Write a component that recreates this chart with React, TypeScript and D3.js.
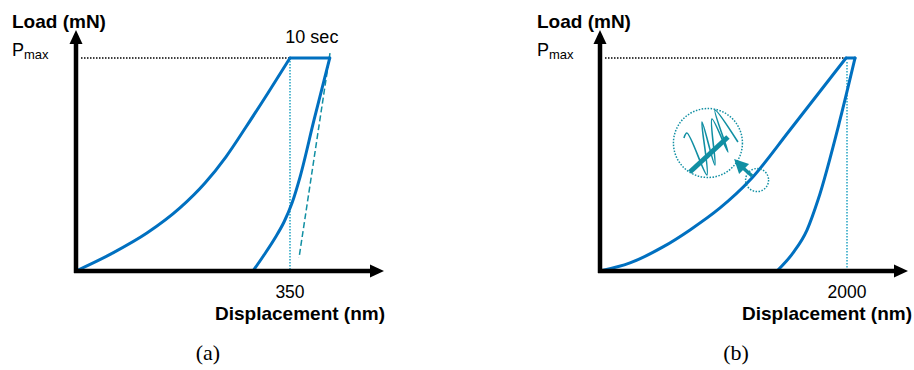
import React from "react";
import * as d3 from "d3";

// ---- data (displacement in nm, load as fraction of Pmax) ----
const LOAD_A_X = [0, 60.5, 116, 170, 211, 245, 278, 314, 350];
const LOAD_A_Y = [0, 0.085, 0.178, 0.296, 0.413, 0.535, 0.676, 0.836, 1];
const HOLD_A_X = [350, 415];
const UNLOAD_A_X = [415, 389.3, 366.4, 353.3, 340.2, 325.5, 307.5, 289.5];
const UNLOAD_A_Y = [1, 0.709, 0.441, 0.319, 0.23, 0.155, 0.075, 0];
const TANGENT_A_X = [415.4, 364.7];
const TANGENT_A_Y = [1.023, 0.061];
const TICK_A = 350;

const LOAD_B_X = [0, 243, 510, 729, 972, 1215, 1538, 1992];
const LOAD_B_Y = [0, 0.038, 0.113, 0.193, 0.296, 0.427, 0.662, 1];
const HOLD_B_X = [1992, 2065];
const UNLOAD_B_X = [2065, 1943, 1765, 1676, 1563, 1433];
const UNLOAD_B_Y = [1, 0.709, 0.333, 0.192, 0.085, 0];
const TICK_B = 2000;

// inset annotation (panel b), in data units
const INSET_CENTER = { x: 874, y: 0.601 };
const SMALL_CIRCLE = { x: 1272, y: 0.427 };
// zigzag glyph offsets (px relative to inset centre)
const ZIGZAG = [
  [-24, -5], [-21, -10], [-1, 32], [-6, -21], [7, 22], [4, -24], [20, 9], [7, -33], [30, -1],
];

const BLUE = "#0070C0";
const TEAL = "#118FA3";
const CYAN = "#22A2C2";
const FONT = "'Liberation Sans', Arial, sans-serif";
const SERIF = "'Liberation Serif', 'Times New Roman', serif";

const zip = (xs: number[], ys: number[]) => xs.map((x, i) => [x, ys[i]] as [number, number]);

function Panel(props: {
  x0: number; xTickPx: number; xEnd: number; tick: number; label: string;
  loadX: number[]; loadY: number[]; holdX: number[]; unX: number[]; unY: number[];
  textX: number; dispEnd: number; children?: (xs: any, ys: any) => React.ReactNode;
  tangent?: boolean; holdLabel?: boolean; vTop?: number;
}) {
  const { x0, xTickPx, xEnd, tick } = props;
  const xs = d3.scaleLinear().domain([0, tick]).range([x0, xTickPx]);
  const ys = d3.scaleLinear().domain([0, 1]).range([271, 58]);
  const curve = d3.line<[number, number]>().x(d => xs(d[0])).y(d => ys(d[1])).curve(d3.curveMonotoneX);
  const straight = d3.line<[number, number]>().x(d => xs(d[0])).y(d => ys(d[1]));
  const load = zip(props.loadX, props.loadY);
  const hold = props.holdX.map(x => [x, 1] as [number, number]);
  const un = zip(props.unX, props.unY).reverse();
  const axisY = ys(0);
  return (
    <g>
      <line x1={x0 + 5} x2={xs(props.loadX[props.loadX.length - 1])} y1={ys(1)} y2={ys(1)}
        stroke="#000" strokeWidth={1.3} strokeDasharray="1.5 1.5" />
      <line x1={xs(tick)} x2={xs(tick)} y1={props.vTop ?? ys(1)} y2={axisY}
        stroke={CYAN} strokeWidth={1.5} strokeDasharray="1.5 1.5" />
      {props.tangent && (
        <path d={straight(zip(TANGENT_A_X, TANGENT_A_Y)) || ""} fill="none" stroke={TEAL}
          strokeWidth={1.5} strokeDasharray="6 3" />
      )}
      <path d={curve(load) || ""} fill="none" stroke={BLUE} strokeWidth={3} strokeLinecap="round" />
      <path d={straight(hold) || ""} fill="none" stroke={BLUE} strokeWidth={3} strokeLinecap="round" />
      <path d={curve(un) || ""} fill="none" stroke={BLUE} strokeWidth={3} strokeLinecap="round" strokeLinejoin="round" />
      {props.children && props.children(xs, ys)}
      <line x1={x0} x2={x0} y1={axisY + 2} y2={43} stroke="#000" strokeWidth={4.5} />
      <path d={`M${x0},30 L${x0 - 6.5},44 L${x0 + 6.5},44 Z`} fill="#000" />
      <line x1={x0 - 2} x2={xEnd - 13} y1={axisY} y2={axisY} stroke="#000" strokeWidth={4.5} />
      <path d={`M${xEnd},${axisY} L${xEnd - 14},${axisY - 6.5} L${xEnd - 14},${axisY + 6.5} Z`} fill="#000" />
      <text x={props.textX} y={28} fontFamily={FONT} fontWeight="bold" fontSize={19}>Load (mN)</text>
      <text x={props.textX} y={56} fontFamily={FONT} fontSize={18}>P<tspan fontSize={13} dy={3}>max</tspan></text>
      <text x={xs(tick)} y={298} textAnchor="middle" fontFamily={FONT} fontSize={17.5}>{props.label}</text>
      <text x={props.dispEnd} y={320} textAnchor="end" fontFamily={FONT} fontWeight="bold" fontSize={19}>Displacement (nm)</text>
      {props.holdLabel && (
        <text x={(xs(props.holdX[0]) + xs(props.holdX[1])) / 2 + 2} y={43} textAnchor="middle" fontFamily={FONT} fontSize={18}>10 sec</text>
      )}
    </g>
  );
}

export default function App() {
  return (
    <svg width={914} height={370} style={{ position: "absolute", left: 0, top: 0, background: "#fff" }}>
      <Panel x0={76} xTickPx={290} xEnd={384} tick={TICK_A} label={String(TICK_A)}
        loadX={LOAD_A_X} loadY={LOAD_A_Y} holdX={HOLD_A_X} unX={UNLOAD_A_X} unY={UNLOAD_A_Y}
        textX={12} dispEnd={385} tangent holdLabel />
      <Panel x0={600} xTickPx={847} xEnd={908} tick={TICK_B} label={String(TICK_B)}
        loadX={LOAD_B_X} loadY={LOAD_B_Y} holdX={HOLD_B_X} unX={UNLOAD_B_X} unY={UNLOAD_B_Y}
        textX={537} dispEnd={912} vTop={62}>
        {(xs: any, ys: any) => {
          const cx = xs(INSET_CENTER.x), cy = ys(INSET_CENTER.y);
          const sx = xs(SMALL_CIRCLE.x), sy = ys(SMALL_CIRCLE.y);
          const zz = d3.line<number[]>().x(d => cx + d[0]).y(d => cy + d[1]).curve(d3.curveCatmullRom.alpha(0.5));
          return (
            <g>
              <circle cx={cx} cy={cy} r={34.5} fill="none" stroke={TEAL} strokeWidth={1.5} strokeDasharray="1.5 1.5" />
              <path d={zz(ZIGZAG) || ""} fill="none" stroke={TEAL} strokeWidth={1.6} />
              <line x1={cx - 18} y1={cy + 29} x2={cx + 20} y2={cy - 6} stroke={TEAL} strokeWidth={5} />
              <circle cx={sx} cy={sy} r={11.5} fill="none" stroke={TEAL} strokeWidth={1.5} strokeDasharray="1.5 1.5" />
              <line x1={sx - 5} y1={sy - 4} x2={sx - 14} y2={sy - 12} stroke={TEAL} strokeWidth={3.5} />
              <path d={`M${sx - 23},${sy - 21} L${sx - 8},${sy - 16} L${sx - 18},${sy - 6} Z`} fill={TEAL} />
            </g>
          );
        }}
      </Panel>
      <text x={208} y={360} textAnchor="middle" fontFamily={SERIF} fontSize={22}>(a)</text>
      <text x={736} y={360} textAnchor="middle" fontFamily={SERIF} fontSize={22}>(b)</text>
    </svg>
  );
}
